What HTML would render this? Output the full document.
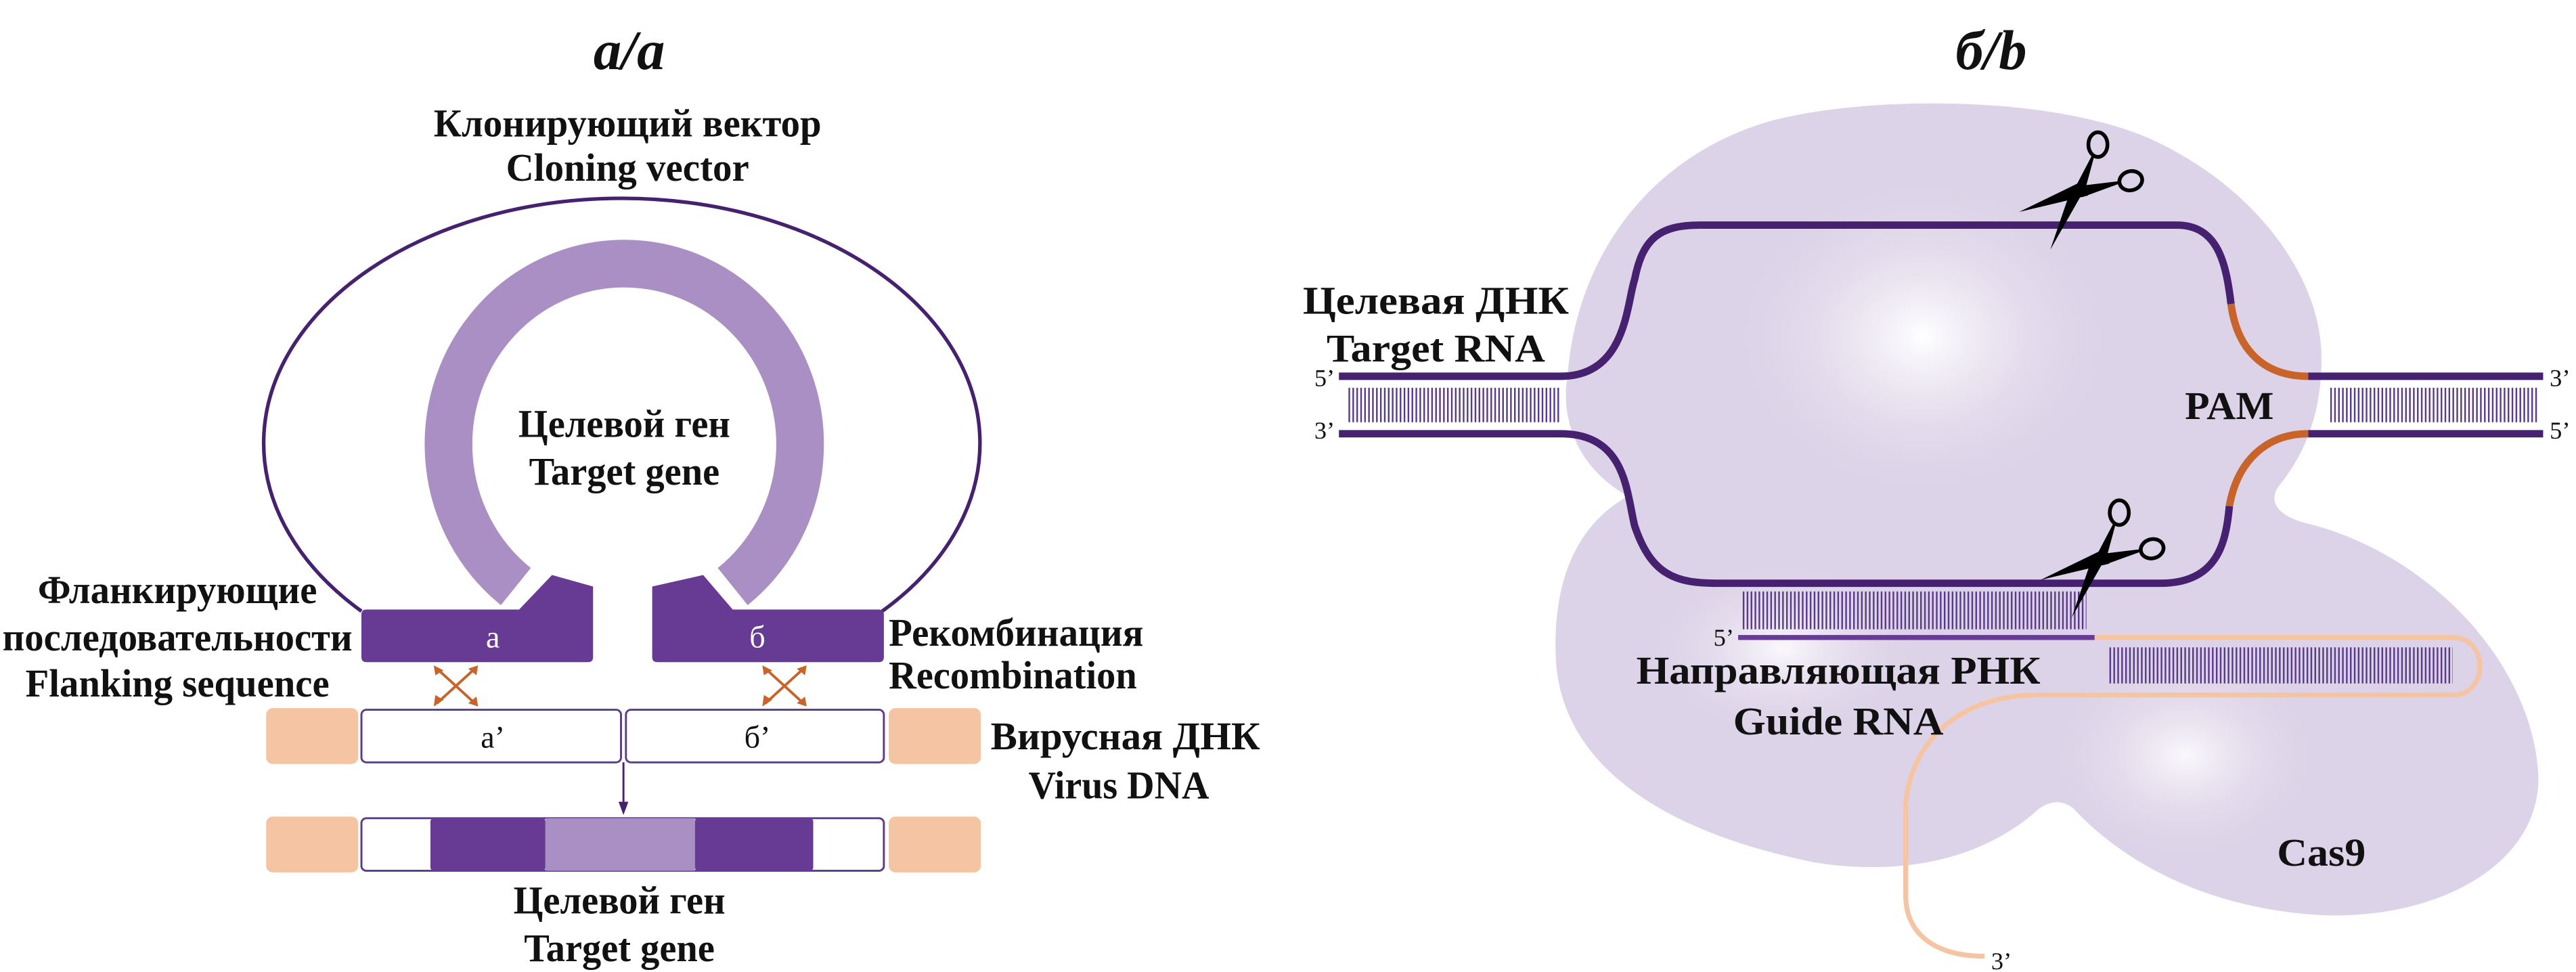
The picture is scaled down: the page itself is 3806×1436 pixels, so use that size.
<!DOCTYPE html>
<html><head><meta charset="utf-8"><style>
html,body{margin:0;padding:0;background:#fff;}
svg{display:block;}
text{font-family:"Liberation Serif","Noto Serif CJK SC",serif;font-weight:bold;fill:#111;}
.n{font-weight:normal;}
</style></head><body>
<svg width="3806" height="1436" viewBox="0 0 1568 591.6" xmlns="http://www.w3.org/2000/svg">
<defs>
<pattern id="lad" width="2.4" height="10" patternUnits="userSpaceOnUse"><rect x="0" y="0" width="1" height="10" fill="#5a3a8a"/></pattern>
<radialGradient id="g1" cx="0.5" cy="0.5" r="0.5"><stop offset="0" stop-color="#fff"/><stop offset="1" stop-color="#ddd3e8" stop-opacity="0"/></radialGradient>
</defs>

<!-- LEFT PANEL -->
<text x="383" y="42" font-size="34" font-style="italic" text-anchor="middle">а/а</text>
<text x="382" y="83" font-size="24" text-anchor="middle" textLength="236" lengthAdjust="spacingAndGlyphs">Клонирующий вектор</text>
<text x="382" y="110" font-size="24" text-anchor="middle" textLength="148" lengthAdjust="spacingAndGlyphs">Cloning vector</text>

<path d="M 220,372 A 218 149 0 1 1 537,372" fill="none" stroke="#452170" stroke-width="2.2"/>
<path d="M 314,357 A 107 110 0 1 1 446,357" fill="none" stroke="#a98fc4" stroke-width="29"/>
<path d="M 223,371 L 316,371 L 336,350 L 361,357 L 361,400 Q 361,403 358,403 L 223,403 Q 220,403 220,400 L 220,374 Q 220,371 223,371 Z" fill="#673a93"/>
<path d="M 535,371 L 446,371 L 428,350 L 397,357 L 397,400 Q 397,403 400,403 L 535,403 Q 538,403 538,400 L 538,374 Q 538,371 535,371 Z" fill="#673a93"/>
<text x="300" y="394" font-size="19" text-anchor="middle" class="n" style="fill:#fff">а</text>
<text x="461" y="394" font-size="19" text-anchor="middle" class="n" style="fill:#fff">б</text>
<text x="380" y="266" font-size="24" text-anchor="middle" textLength="129" lengthAdjust="spacingAndGlyphs">Целевой ген</text>
<text x="380" y="295" font-size="24" text-anchor="middle" textLength="116" lengthAdjust="spacingAndGlyphs">Target gene</text>

<g stroke="#c8642a" stroke-width="1.6">
<line x1="266" y1="428" x2="289" y2="407"/><line x1="266" y1="407" x2="289" y2="428"/>
<line x1="466" y1="428" x2="489" y2="407"/><line x1="466" y1="407" x2="489" y2="428"/>
</g>
<g fill="#c8642a">
<polygon points="264,430 265,423 270,426"/><polygon points="291,405 285,407 290,411"/>
<polygon points="264,405 270,408 265,411"/><polygon points="291,430 285,428 290,424"/>
<polygon points="464,430 465,423 470,426"/><polygon points="491,405 485,407 490,411"/>
<polygon points="464,405 470,408 465,411"/><polygon points="491,430 485,428 490,424"/>
</g>

<rect x="162" y="431" width="56" height="34" rx="4" fill="#f5c5a3"/>
<rect x="541" y="431" width="56" height="34" rx="4" fill="#f5c5a3"/>
<rect x="220" y="432" width="158" height="32" rx="3" fill="#fff" stroke="#5a3a8a" stroke-width="1.2"/>
<rect x="381" y="432" width="157" height="32" rx="3" fill="#fff" stroke="#5a3a8a" stroke-width="1.2"/>
<text x="300" y="455" font-size="19" text-anchor="middle" class="n">а’</text>
<text x="461" y="455" font-size="19" text-anchor="middle" class="n">б’</text>
<line x1="379.5" y1="464" x2="379.5" y2="490" stroke="#452170" stroke-width="1.2"/>
<polygon points="376.5,488 382.5,488 379.5,496" fill="#452170"/>

<rect x="162" y="497" width="56" height="34" rx="4" fill="#f5c5a3"/>
<rect x="541" y="497" width="56" height="34" rx="4" fill="#f5c5a3"/>
<rect x="220" y="498" width="318" height="32" rx="3" fill="#fff" stroke="#5a3a8a" stroke-width="1.2"/>
<rect x="262" y="498" width="70" height="32" rx="2" fill="#673a93"/>
<rect x="332" y="498" width="91" height="32" fill="#a98fc4"/>
<rect x="423" y="498" width="72" height="32" rx="2" fill="#673a93"/>
<text x="377" y="556" font-size="24" text-anchor="middle" textLength="129" lengthAdjust="spacingAndGlyphs">Целевой ген</text>
<text x="377" y="585" font-size="24" text-anchor="middle" textLength="116" lengthAdjust="spacingAndGlyphs">Target gene</text>

<text x="108" y="367" font-size="24" text-anchor="middle" textLength="170" lengthAdjust="spacingAndGlyphs">Фланкирующие</text>
<text x="108" y="396" font-size="24" text-anchor="middle" textLength="213" lengthAdjust="spacingAndGlyphs">последовательности</text>
<text x="108" y="424" font-size="24" text-anchor="middle" textLength="185" lengthAdjust="spacingAndGlyphs">Flanking sequence</text>
<text x="541" y="393" font-size="24" textLength="155" lengthAdjust="spacingAndGlyphs">Рекомбинация</text>
<text x="541" y="419" font-size="24" textLength="151" lengthAdjust="spacingAndGlyphs">Recombination</text>
<text x="603" y="456" font-size="24" textLength="164" lengthAdjust="spacingAndGlyphs">Вирусная ДНК</text>
<text x="681" y="486" font-size="24" text-anchor="middle" textLength="110" lengthAdjust="spacingAndGlyphs">Virus DNA</text>

<!-- RIGHT PANEL -->
<text x="1212" y="42" font-size="34" font-style="italic" text-anchor="middle">б/b</text>

<path d="M 991,302 C 960,285 950,255 954,230 C 960,150 1010,92 1080,73 C 1140,58 1250,58 1310,85 C 1375,115 1412,170 1413,215 C 1414,255 1400,280 1387,296 C 1380,306 1388,314 1402,318 C 1475,335 1540,400 1545,470 C 1548,525 1485,560 1413,557 C 1340,553 1290,522 1263,493 C 1256,486 1246,487 1238,495 C 1200,527 1150,532 1105,525 C 1020,508 950,470 947,400 C 945,350 962,318 991,302 Z" fill="#ddd3e8"/>
<ellipse cx="1170" cy="205" rx="120" ry="100" fill="url(#g1)"/>
<ellipse cx="1085" cy="395" rx="85" ry="55" fill="url(#g1)" opacity="0.85"/>
<ellipse cx="1330" cy="460" rx="85" ry="65" fill="url(#g1)" opacity="0.85"/>

<g fill="none" stroke-width="4.5" stroke-linecap="butt">
<path d="M 815,229 L 950,229 C 990,229 990,185 995,170 C 1000,145 1010,137 1035,137 L 1325,137 C 1350,137 1355,160 1358,185" stroke="#452170"/>
<path d="M 1358,185 C 1362,215 1380,229 1405,229" stroke="#c8642a"/>
<path d="M 1405,229 L 1548,229" stroke="#452170"/>
<path d="M 815,264 L 950,264 C 990,264 990,300 995,320 C 1005,350 1020,355 1045,355 L 1315,355 C 1350,355 1355,330 1357,308" stroke="#452170"/>
<path d="M 1357,308 C 1362,280 1380,264 1405,264" stroke="#c8642a"/>
<path d="M 1405,264 L 1548,264" stroke="#452170"/>
</g>
<rect x="820" y="236" width="130" height="21" fill="url(#lad)"/>
<rect x="1418" y="236" width="127" height="21" fill="url(#lad)"/>
<text x="800" y="235" font-size="15" class="n">5’</text>
<text x="800" y="267" font-size="15" class="n">3’</text>
<text x="1552" y="235" font-size="15" class="n">3’</text>
<text x="1552" y="267" font-size="15" class="n">5’</text>
<text x="874" y="191" font-size="24" text-anchor="middle" textLength="162" lengthAdjust="spacingAndGlyphs">Целевая ДНК</text>
<text x="874" y="220" font-size="24" text-anchor="middle" textLength="133" lengthAdjust="spacingAndGlyphs">Target RNA</text>
<text x="1357" y="255" font-size="24" text-anchor="middle" textLength="54" lengthAdjust="spacingAndGlyphs">PAM</text>

<rect x="1060" y="360" width="210" height="23" fill="url(#lad)"/>
<line x1="1058" y1="388" x2="1275" y2="388" stroke="#673a93" stroke-width="3"/>
<path d="M 1275,388 L 1493,388 C 1515,388 1515,423 1493,423 L 1240,423 C 1190,423 1162,455 1160,490 L 1160,545 C 1160,570 1180,582 1208,582" fill="none" stroke="#f5c5a3" stroke-width="3"/>
<rect x="1283" y="394" width="210" height="22" fill="url(#lad)"/>
<text x="1043" y="393" font-size="15" class="n">5’</text>
<text x="1212" y="590" font-size="15" class="n">3’</text>
<text x="996" y="416" font-size="24" textLength="246" lengthAdjust="spacingAndGlyphs">Направляющая РНК</text>
<text x="1055" y="447" font-size="24" textLength="128" lengthAdjust="spacingAndGlyphs">Guide RNA</text>
<text x="1413" y="527" font-size="24" text-anchor="middle" textLength="54" lengthAdjust="spacingAndGlyphs">Cas9</text>

<g id="sc">
<ellipse cx="1277" cy="88" rx="5.8" ry="7.5" fill="none" stroke="#000" stroke-width="2.3"/>
<ellipse cx="1297" cy="110" rx="7" ry="5.8" fill="none" stroke="#000" stroke-width="2.3" transform="rotate(-15 1297 110)"/>
<path d="M 1274,95 L 1263,116 L 1268,117 Z" fill="#000" stroke="#000" stroke-width="1.5"/>
<path d="M 1290,111 L 1265,114 L 1268,119 Z" fill="#000" stroke="#000" stroke-width="1.5"/>
<polygon points="1266,111 1271,119 1229,129" fill="#000"/>
<polygon points="1261,114 1269,115 1248,152" fill="#000"/>
</g>
<use href="#sc" transform="translate(13,224)"/>
</svg>
</body></html>
